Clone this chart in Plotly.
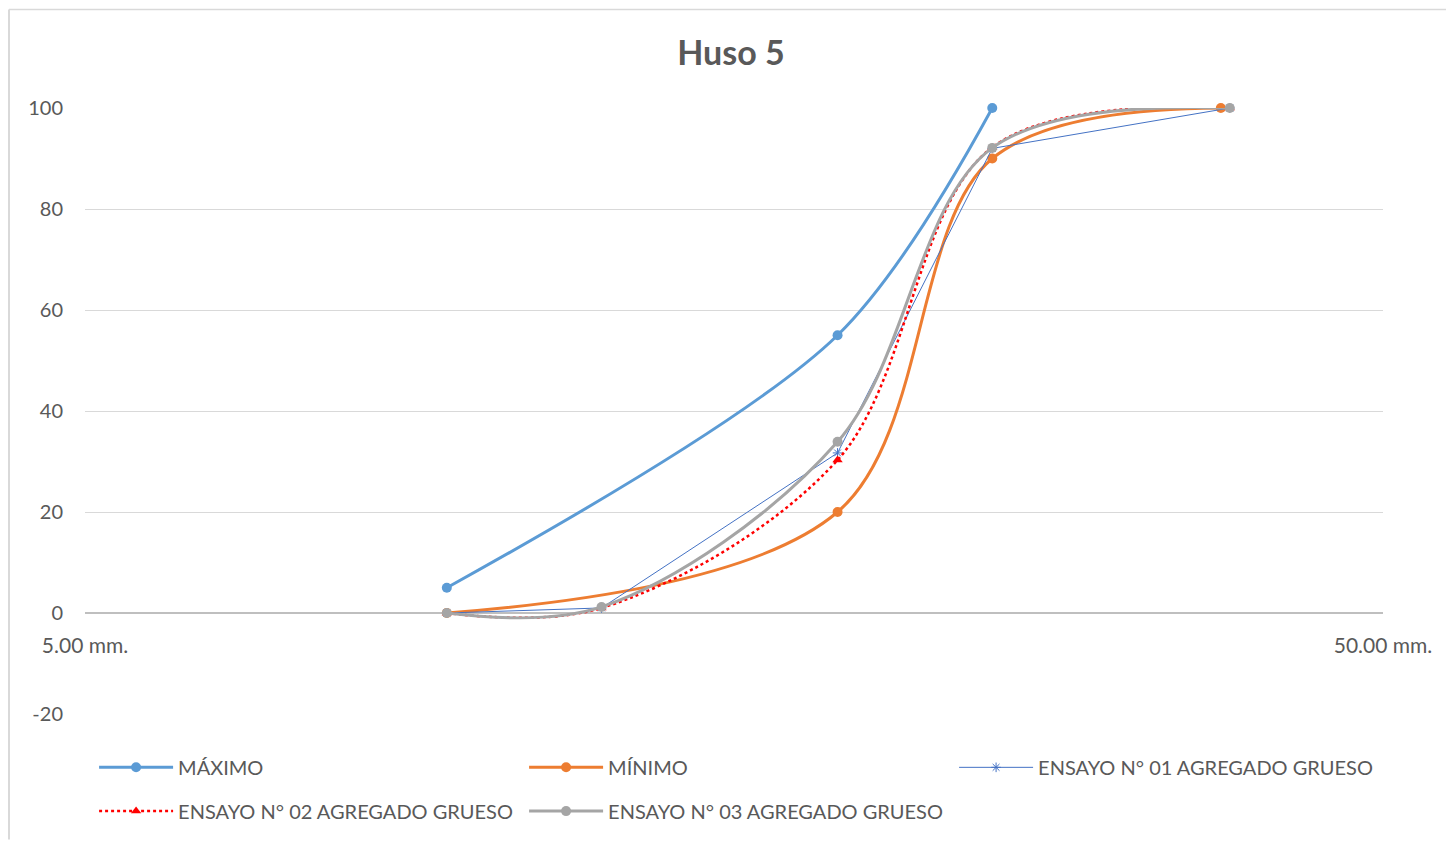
import math
import plotly.graph_objects as go

# abertura de tamiz (mm) y % que pasa
TAMIZ_HUSO = [9.5, 19.0, 25.0]
MAXIMO = [5, 55, 100]

TAMIZ_MIN = [9.5, 19.0, 25.0, 37.5]
MINIMO = [0, 20, 90, 100]

TAMIZ_ENSAYO = [9.5, 12.5, 19.0, 25.0, 38.1]
ENSAYO_01 = [0, 1.0, 31.7, 92.0, 100]
ENSAYO_02 = [0, 1.0, 30.3, 92.2, 100]
ENSAYO_03 = [0, 1.2, 33.9, 92.1, 100]

X_TICKS = [5, 50]
X_TICK_LABELS = ["5.00 mm.", "50.00 mm."]
Y_TICKS = [-20, 0, 20, 40, 60, 80, 100]
Y_TICK_LABELS = ["-20", "0", "20", "40", "60", "80", "100"]

COR_MAX = "#5B9BD5"
COR_MIN = "#ED7D31"
COR_E1 = "#4472C4"
COR_E2 = "#FF0000"
COR_E3 = "#A5A5A5"
COR_TEXTO = "#595959"
COR_GRADE = "#D9D9D9"

FONTE = "Lato, 'Open Sans', sans-serif"

fig = go.Figure()

fig.add_trace(go.Scatter(
    x=TAMIZ_HUSO, y=MAXIMO, name="MÁXIMO", mode="lines+markers",
    line=dict(color=COR_MAX, width=3, shape="spline", smoothing=0.9),
    marker=dict(symbol="circle", size=10, color=COR_MAX),
    legend="legend", cliponaxis=False
))

fig.add_trace(go.Scatter(
    x=TAMIZ_MIN, y=MINIMO, name="MÍNIMO", mode="lines+markers",
    line=dict(color=COR_MIN, width=3, shape="spline", smoothing=1),
    marker=dict(symbol="circle", size=10, color=COR_MIN),
    legend="legend", cliponaxis=False
))

fig.add_trace(go.Scatter(
    x=TAMIZ_ENSAYO, y=ENSAYO_01, name="ENSAYO N° 01 AGREGADO GRUESO",
    mode="lines+markers",
    line=dict(color=COR_E1, width=1),
    marker=dict(symbol="asterisk-open", size=8, color=COR_E1,
                line=dict(color=COR_E1, width=1)),
    legend="legend", cliponaxis=False
))

fig.add_trace(go.Scatter(
    x=TAMIZ_ENSAYO, y=ENSAYO_02, name="ENSAYO N° 02 AGREGADO GRUESO",
    mode="lines+markers",
    line=dict(color=COR_E2, width=2.5, dash="dot", shape="spline", smoothing=1),
    marker=dict(symbol="triangle-up", size=9, color=COR_E2),
    legend="legend2", cliponaxis=False
))

fig.add_trace(go.Scatter(
    x=TAMIZ_ENSAYO, y=ENSAYO_03, name="ENSAYO N° 03 AGREGADO GRUESO",
    mode="lines+markers",
    line=dict(color=COR_E3, width=3, shape="spline", smoothing=1),
    marker=dict(symbol="circle", size=10, color=COR_E3),
    legend="legend2", cliponaxis=False
))

# la página tiene 8 px de margen en el body: la figura empieza en (8, 8)
W, H = 1446, 835
L, R, T, B = 77, 71, 100, 126
pw, ph = W - L - R, H - T - B

# borde del área del gráfico (izquierda y arriba)
fig.add_shape(type="line", xref="paper", yref="paper",
              x0=(1 - L) / pw, x1=(1 - L) / pw,
              y0=-(H - T - ph) / ph, y1=1 + (T - 1) / ph,
              line=dict(color=COR_GRADE, width=2), layer="below")
fig.add_shape(type="line", xref="paper", yref="paper",
              x0=(1 - L) / pw, x1=(W - L) / pw,
              y0=1 + (T - 1) / ph, y1=1 + (T - 1) / ph,
              line=dict(color=COR_GRADE, width=1.5), layer="below")

leyenda = dict(
    orientation="h", x=0.007, xanchor="left", yanchor="top",
    entrywidth=341, entrywidthmode="pixels", itemwidth=74,
    font=dict(family=FONTE, size=20, color=COR_TEXTO),
    bgcolor="rgba(0,0,0,0)"
)

fig.update_layout(
    width=W, height=H,
    paper_bgcolor="white", plot_bgcolor="white",
    margin=dict(l=L, r=R, t=T, b=B),
    title=dict(text="<b>Huso 5</b>", x=0.5, xanchor="center", y=1 - 45 / H,
               yanchor="middle", font=dict(family=FONTE, size=34, color=COR_TEXTO)),
    font=dict(family=FONTE, size=20, color=COR_TEXTO),
    showlegend=True,
    legend=dict(leyenda, y=-(751 - 8 - T - ph) / ph),
    legend2=dict(leyenda, y=-(795 - 8 - T - ph) / ph),
)

fig.update_xaxes(
    type="log", range=[math.log10(5), math.log10(50)],
    tickvals=X_TICKS, ticktext=X_TICK_LABELS,
    showgrid=True, gridcolor=COR_GRADE, gridwidth=1,
    showline=False, zeroline=False, ticks="",
    anchor="free", position=20 / 120, ticklabelstandoff=18,
    tickfont=dict(family=FONTE, size=21, color=COR_TEXTO)
)

fig.update_yaxes(
    range=[-20, 100], tickvals=Y_TICKS, ticktext=Y_TICK_LABELS,
    showgrid=True, gridcolor=COR_GRADE, gridwidth=1,
    zeroline=True, zerolinecolor="#BFBFBF", zerolinewidth=1.5,
    showline=False, ticks="", ticklabelstandoff=21,
    tickfont=dict(family=FONTE, size=20, color=COR_TEXTO)
)

fig.write_html("out.html")
